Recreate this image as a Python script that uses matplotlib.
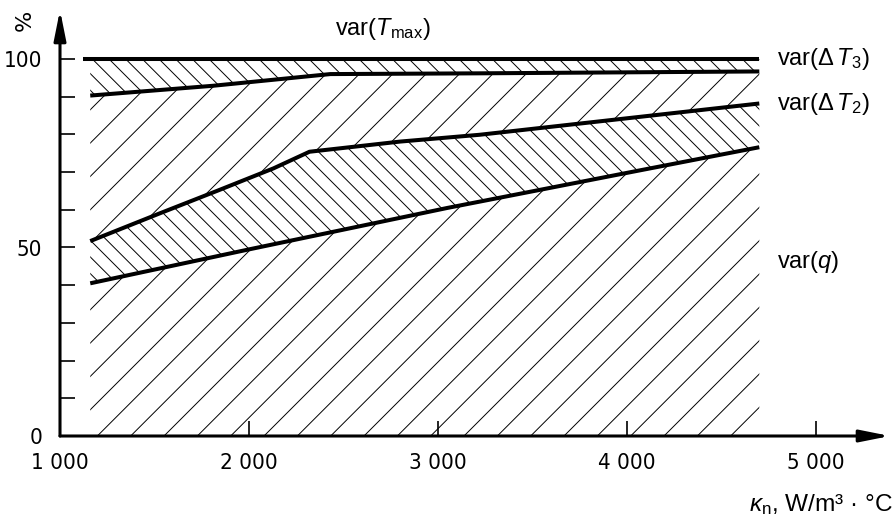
import numpy as np
import matplotlib
matplotlib.use('Agg')
import matplotlib.pyplot as plt
from matplotlib.ticker import FixedLocator, FuncFormatter

# curves (x in W/m3*C, y in %)
x_tmax = [1120, 4700]
y_tmax = [100, 100]

x_dt3 = [1160, 1810, 2230, 2430, 3220, 4700]
y_dt3 = [90.3, 92.9, 95.0, 96.0, 96.2, 96.7]

x_dt2 = [1160, 1530, 1830, 2130, 2320, 2800, 3220, 4700]
y_dt2 = [51.7, 59.1, 65.0, 71.0, 75.4, 78.1, 79.9, 88.2]

x_q = [1160, 2000, 3050, 4000, 4700]
y_q = [40.5, 49.5, 60.5, 69.8, 76.6]

x_ticks = [1000, 2000, 3000, 4000, 5000]
y_major = [0, 50, 100]
y_minor = [10, 20, 30, 40, 60, 70, 80, 90]

plt.rcParams['mathtext.fontset'] = 'custom'
plt.rcParams['mathtext.rm'] = 'Liberation Sans'
plt.rcParams['mathtext.it'] = 'Liberation Sans:italic'
plt.rcParams['font.family'] = 'Liberation Sans'
plt.rcParams['hatch.linewidth'] = 0.35

DPI = 200
fig = plt.figure(figsize=(895 / DPI, 522 / DPI), dpi=DPI)
ax = fig.add_axes([60 / 895, 86 / 522, 830 / 895, 426 / 522])
ax.set_xlim(1000, 1000 + 830 / 0.189)
ax.set_ylim(0, 426 / 3.77)

# hatched bands between the curves
def band(xa, ya, xb, yb, hatch):
    ax.fill(np.r_[xa, xb[::-1]], np.r_[ya, yb[::-1]], facecolor='none',
            edgecolor='black', linewidth=0, hatch=hatch)

sparse = '//'
dense = '\\' * 4
band(x_q, y_q, x_q, [0] * len(x_q), sparse)
band(x_dt2, y_dt2, x_q, y_q, dense)
band(x_dt3, y_dt3, x_dt2, y_dt2, sparse)
band([1160, 4700], [100, 100], x_dt3, y_dt3, dense)

for xs, ys in [(x_tmax, y_tmax), (x_dt3, y_dt3), (x_dt2, y_dt2), (x_q, y_q)]:
    ax.plot(xs, ys, color='black', lw=1.45, solid_capstyle='butt')

# axes with arrows
for s in ax.spines.values():
    s.set_visible(False)
arr = dict(arrowstyle='-|>,head_length=0.9,head_width=0.18', color='black',
           lw=1.1, shrinkA=0, shrinkB=0)
ax.annotate('', xy=(1, 0), xytext=(0, 0), xycoords='axes fraction', arrowprops=arr)
ax.annotate('', xy=(0, 1), xytext=(0, 0), xycoords='axes fraction', arrowprops=arr)

tick_font = dict(family='DejaVu Sans', stretch='condensed', size=8.0)
ax.xaxis.set_major_locator(FixedLocator(x_ticks))
ax.xaxis.set_major_formatter(FuncFormatter(lambda v, p: f'{v:,.0f}'.replace(',', ' ')))
ax.yaxis.set_major_locator(FixedLocator(y_major))
ax.yaxis.set_minor_locator(FixedLocator(y_minor))
ax.tick_params(axis='both', which='both', direction='in', length=5.4, width=0.6,
               color='black')
ax.tick_params(axis='x', pad=6.0)
ax.tick_params(axis='y', pad=6.3)
for lab in ax.get_xticklabels() + ax.get_yticklabels():
    lab.set_fontproperties(matplotlib.font_manager.FontProperties(**tick_font))

# curve labels
ax.text(2709, 106.4, r'var($T_{\mathrm{max}}$)', ha='center', va='baseline', fontsize=8.5)
ax.text(4794, 98.4, r'var($\Delta\,T_3$)', ha='left', va='baseline', fontsize=8.5)
ax.text(4794, 86.5, r'var($\Delta\,T_2$)', ha='left', va='baseline', fontsize=8.5)
ax.text(4794, 44.6, r'var($q$)', ha='left', va='baseline', fontsize=8.5)

fig.text(893 / 895, 11 / 522, r'$\kappa_{\mathrm{n}}$, W/m³ · °C', ha='right',
         va='baseline', fontsize=8.8)
fig.text(25 / 895, 1 - 20 / 522, '%', rotation=90, ha='center', va='center',
         fontsize=8, family='DejaVu Sans')

fig.savefig('out.png', dpi=DPI)
plt.close(fig)
